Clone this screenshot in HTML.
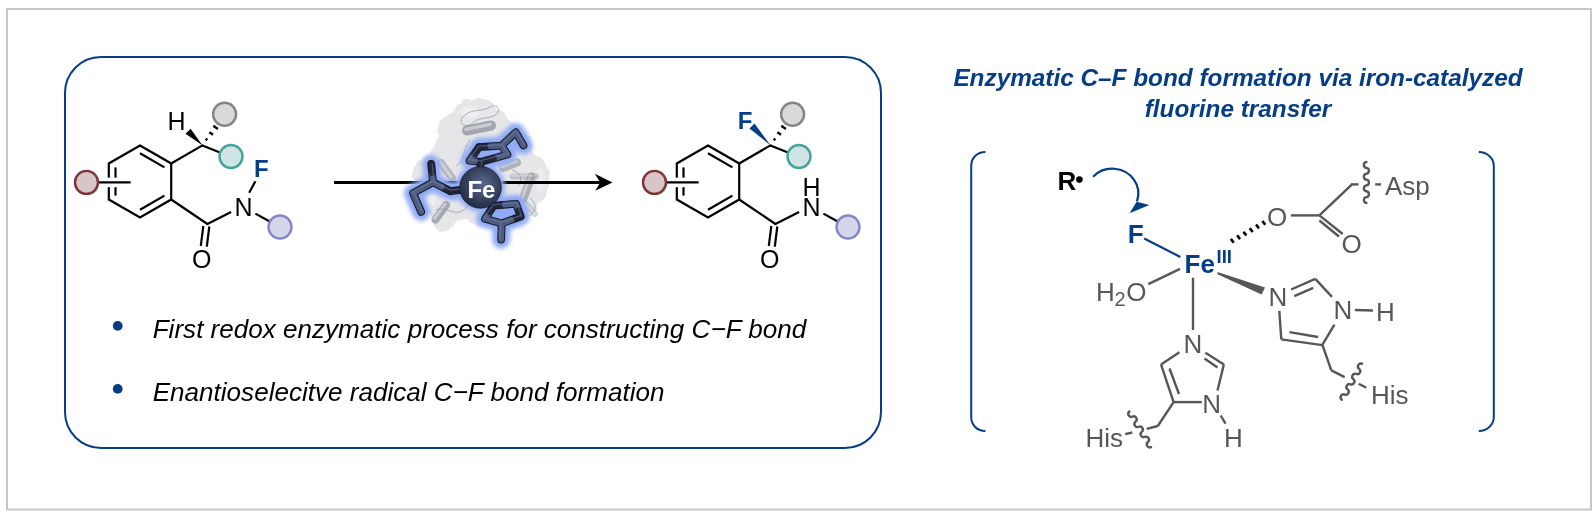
<!DOCTYPE html>
<html><head><meta charset="utf-8">
<style>
html,body{margin:0;padding:0;background:#fff;width:1594px;height:520px;overflow:hidden}
svg{display:block;will-change:transform}
text{font-family:"Liberation Sans",sans-serif}
</style></head>
<body>
<svg width="1594" height="520" viewBox="0 0 1594 520">
<defs>
  <filter id="glow" x="-30%" y="-30%" width="160%" height="160%">
    <feGaussianBlur stdDeviation="1.9"/>
  </filter>
  <filter id="soft" x="-10%" y="-10%" width="120%" height="120%">
    <feGaussianBlur stdDeviation="0.9"/>
  </filter>
  <filter id="lumpy" x="-10%" y="-10%" width="120%" height="120%">
    <feTurbulence type="fractalNoise" baseFrequency="0.1" numOctaves="2" seed="5" result="n"/>
    <feDisplacementMap in="SourceGraphic" in2="n" scale="8" xChannelSelector="R" yChannelSelector="G" result="d"/>
    <feGaussianBlur in="d" stdDeviation="0.6"/>
  </filter>
  <radialGradient id="feg" cx="0.55" cy="0.42" r="0.62">
    <stop offset="0" stop-color="#5c6a92"/>
    <stop offset="0.5" stop-color="#3e4866"/>
    <stop offset="0.9" stop-color="#283048"/>
    <stop offset="1" stop-color="#1d2234"/>
  </radialGradient>
  <linearGradient id="hel" x1="0" y1="0" x2="0" y2="1">
    <stop offset="0" stop-color="#b9bcc2"/>
    <stop offset="0.5" stop-color="#9ea2ab"/>
    <stop offset="1" stop-color="#8a8e98"/>
  </linearGradient>
  </defs>

<!-- outer frame -->
<rect x="7" y="9" width="1584" height="500.5" fill="none" stroke="#c8c8c8" stroke-width="2"/>
<!-- blue rounded box -->
<rect x="65" y="57" width="816" height="391" rx="36" ry="36" fill="none" stroke="#063e85" stroke-width="2"/>

<!-- reactant -->
<g>
    <!-- ring -->
    <path d="M140,145.5 L171.2,163.5 L171.2,199.5 L140,217.5 L108.8,199.5 L108.8,163.5 Z" fill="none" stroke="#000" stroke-width="2.2" stroke-linejoin="miter"/>
    <g stroke="#000" stroke-width="2.2">
    <line x1="140.0" y1="153.2" x2="164.45" y2="167.35"/>
    <line x1="140.0" y1="209.8" x2="164.45" y2="195.65"/>
    <line x1="115.5" y1="167.4" x2="115.5" y2="195.6"/>
    </g>
    <!-- substituent crossing -->
    <line x1="102" y1="182.4" x2="122" y2="182.4" stroke="#fff" stroke-width="9.5"/>
    <line x1="98" y1="182.4" x2="130.6" y2="182.4" stroke="#000" stroke-width="2.2"/>
    <circle cx="86.5" cy="182.4" r="11.5" fill="#d8c5c6" stroke="#7c3437" stroke-width="2.4"/>
    <g stroke="#000" stroke-width="2.2" stroke-linecap="round">
    <!-- to chiral C -->
    <line x1="171.2" y1="163.5" x2="202.4" y2="145.4"/>
    <!-- chiral C to teal -->
    <line x1="202.4" y1="145.4" x2="220" y2="152.5" stroke-linecap="butt"/>
    <!-- carbonyl -->
    <line x1="171.2" y1="199.5" x2="207.4" y2="224"/>
    <line x1="207.4" y1="224" x2="231.1" y2="212.1" stroke-linecap="butt"/>
    <line x1="255.4" y1="213.6" x2="269.3" y2="221.2" stroke-linecap="butt"/>
    </g>
    <g stroke="#000" stroke-width="2.2">
    <line x1="203.3" y1="226" x2="200.8" y2="245.8"/>
    <line x1="209.3" y1="226.5" x2="206.8" y2="246.6"/>
    </g>
    <circle cx="231" cy="156.5" r="11.5" fill="#cfe5e4" stroke="#45a29f" stroke-width="2.4"/>
    <circle cx="224.6" cy="114.3" r="11.5" fill="#d9d9d9" stroke="#858585" stroke-width="2.4"/>
    <text transform="translate(201.8,268) scale(1,1.02)" font-size="25" text-anchor="middle">O</text>
    <circle cx="280" cy="227" r="11.5" fill="#d5d5ec" stroke="#8686c9" stroke-width="2.4"/>
    <text transform="translate(243.5,216) scale(1,1.02)" font-size="25" text-anchor="middle">N</text>
    <g stroke="#000" stroke-width="2.4">
      <line x1="205.6" y1="138.7" x2="207.4" y2="140.1"/>
      <line x1="209.4" y1="132.2" x2="213.0" y2="134.7"/>
      <line x1="213.3" y1="125.7" x2="217.9" y2="128.9"/>
    </g>
  </g>
<polygon points="202.4,145.2 185.5,133.7 190.6,128.7" fill="#000"/>
<text transform="translate(176.6,129.8) scale(1,1.02)" font-size="25" text-anchor="middle">H</text>
<line x1="249.2" y1="192.8" x2="255.4" y2="181.3" stroke="#000" stroke-width="2.2"/>
<text transform="translate(261.4,177.2) scale(1,1.02)" font-size="24" font-weight="bold" fill="#063e85" text-anchor="middle">F</text>

<!-- product -->
<g transform="translate(568,0)">
<g>
    <!-- ring -->
    <path d="M140,145.5 L171.2,163.5 L171.2,199.5 L140,217.5 L108.8,199.5 L108.8,163.5 Z" fill="none" stroke="#000" stroke-width="2.2" stroke-linejoin="miter"/>
    <g stroke="#000" stroke-width="2.2">
    <line x1="140.0" y1="153.2" x2="164.45" y2="167.35"/>
    <line x1="140.0" y1="209.8" x2="164.45" y2="195.65"/>
    <line x1="115.5" y1="167.4" x2="115.5" y2="195.6"/>
    </g>
    <!-- substituent crossing -->
    <line x1="102" y1="182.4" x2="122" y2="182.4" stroke="#fff" stroke-width="9.5"/>
    <line x1="98" y1="182.4" x2="130.6" y2="182.4" stroke="#000" stroke-width="2.2"/>
    <circle cx="86.5" cy="182.4" r="11.5" fill="#d8c5c6" stroke="#7c3437" stroke-width="2.4"/>
    <g stroke="#000" stroke-width="2.2" stroke-linecap="round">
    <!-- to chiral C -->
    <line x1="171.2" y1="163.5" x2="202.4" y2="145.4"/>
    <!-- chiral C to teal -->
    <line x1="202.4" y1="145.4" x2="220" y2="152.5" stroke-linecap="butt"/>
    <!-- carbonyl -->
    <line x1="171.2" y1="199.5" x2="207.4" y2="224"/>
    <line x1="207.4" y1="224" x2="231.1" y2="212.1" stroke-linecap="butt"/>
    <line x1="255.4" y1="213.6" x2="269.3" y2="221.2" stroke-linecap="butt"/>
    </g>
    <g stroke="#000" stroke-width="2.2">
    <line x1="203.3" y1="226" x2="200.8" y2="245.8"/>
    <line x1="209.3" y1="226.5" x2="206.8" y2="246.6"/>
    </g>
    <circle cx="231" cy="156.5" r="11.5" fill="#cfe5e4" stroke="#45a29f" stroke-width="2.4"/>
    <circle cx="224.6" cy="114.3" r="11.5" fill="#d9d9d9" stroke="#858585" stroke-width="2.4"/>
    <text transform="translate(201.8,268) scale(1,1.02)" font-size="25" text-anchor="middle">O</text>
    <circle cx="280" cy="227" r="11.5" fill="#d5d5ec" stroke="#8686c9" stroke-width="2.4"/>
    <text transform="translate(243.5,216) scale(1,1.02)" font-size="25" text-anchor="middle">N</text>
    <g stroke="#000" stroke-width="2.4">
      <line x1="205.6" y1="138.7" x2="207.4" y2="140.1"/>
      <line x1="209.4" y1="132.2" x2="213.0" y2="134.7"/>
      <line x1="213.3" y1="125.7" x2="217.9" y2="128.9"/>
    </g>
  </g>
<polygon points="202.4,145.2 181.5,128.5 186.5,123.5" fill="#063e85"/>
<text transform="translate(177,128.6) scale(1,1.02)" font-size="24" font-weight="bold" fill="#063e85" text-anchor="middle">F</text>
<text transform="translate(243.5,195.6) scale(1,1.02)" font-size="25" text-anchor="middle">H</text>
</g>

<g id="enzyme"><path d="M471.3,99.3 C473.9,98.8 478.0,97.2 481.4,97.9 C484.8,98.6 488.4,101.2 491.5,103.6 C494.6,106.0 497.7,109.9 500.1,112.3 C502.5,114.7 503.4,115.9 506,118 C508.6,120.1 512.2,121.6 516,125 C519.8,128.4 526.1,133.6 529,138.2 C531.9,142.8 531.4,149.6 533.3,152.7 C535.2,155.8 538.1,154.6 540.5,157 C542.9,159.4 546.3,163.5 547.7,167.1 C549.1,170.7 549.3,174.8 549.1,178.6 C548.9,182.4 547.7,186.2 546.3,190.1 C544.9,193.9 542.4,198.3 540.5,201.7 C538.6,205.1 536.6,207.9 534.7,210.3 C532.8,212.7 531.4,214.2 529,216.1 C526.6,218.0 523.5,220.2 520.3,221.8 C517.1,223.5 514.2,225.0 510,226 C505.8,227.0 500.0,228.0 495,228 C490.0,228.0 484.8,227.5 480,226 C475.2,224.5 469.7,219.7 466,219 C462.3,218.3 461.0,220.1 458,222 C455.0,223.9 451.3,228.8 448.2,230.5 C445.1,232.2 442.0,233.0 439.6,232 C437.2,231.0 435.7,228.3 433.8,224.7 C431.9,221.1 430.4,214.1 428,210.3 C425.6,206.5 421.3,205.1 419.4,201.7 C417.5,198.3 417.5,194.9 416.5,190.1 C415.5,185.3 413.1,177.6 413.6,172.8 C414.1,168.0 416.5,164.7 419.4,161.3 C422.3,158.0 428.1,155.6 431,152.7 C433.9,149.8 435.5,147.4 436.7,144 C437.9,140.6 437.7,136.1 438.2,132.5 C438.7,128.9 438.2,125.3 439.6,122.4 C441.0,119.5 443.9,117.9 446.8,115.2 C449.7,112.5 453.8,108.9 456.9,106.5 C460.0,104.1 463.1,102.0 465.5,100.8 C467.9,99.6 468.7,99.8 471.3,99.3Z" fill="#e3e3e6" fill-opacity="0.9" filter="url(#lumpy)"/><g fill="#f2f2f3" opacity="0.7" filter="url(#soft)"><ellipse cx="470" cy="112" rx="9" ry="6"/><ellipse cx="540" cy="180" rx="5" ry="12"/><ellipse cx="430" cy="200" rx="6" ry="8"/><ellipse cx="500" cy="228" rx="10" ry="3"/></g><g opacity="0.85" stroke-linecap="round"><line x1="467" y1="130.5" x2="491" y2="125.5" stroke="#979ba4" stroke-width="10"/><line x1="467" y1="130.5" x2="491" y2="125.5" stroke="#c4c7cd" stroke-width="3.5" transform="translate(-0.9,-1.1)"/></g><g opacity="0.7" stroke-linecap="round"><line x1="503" y1="168" x2="517" y2="162.5" stroke="#979ba4" stroke-width="8"/><line x1="503" y1="168" x2="517" y2="162.5" stroke="#c4c7cd" stroke-width="2.8" transform="translate(-0.9,-1.1)"/></g><g opacity="0.75" stroke-linecap="round"><line x1="531.5" y1="176.5" x2="523" y2="199" stroke="#979ba4" stroke-width="8.5"/><line x1="531.5" y1="176.5" x2="523" y2="199" stroke="#c4c7cd" stroke-width="3.0" transform="translate(-0.9,-1.1)"/></g><g opacity="0.5" stroke-linecap="round"><line x1="513" y1="176.6" x2="536" y2="176.6" stroke="#979ba4" stroke-width="6"/><line x1="513" y1="176.6" x2="536" y2="176.6" stroke="#c4c7cd" stroke-width="2.1" transform="translate(-0.9,-1.1)"/></g><g opacity="0.8" stroke-linecap="round"><line x1="446" y1="205" x2="435.5" y2="219.5" stroke="#979ba4" stroke-width="8"/><line x1="446" y1="205" x2="435.5" y2="219.5" stroke="#c4c7cd" stroke-width="2.8" transform="translate(-0.9,-1.1)"/></g><g opacity="0.6" stroke-linecap="round"><line x1="441" y1="163" x2="452" y2="178" stroke="#979ba4" stroke-width="8"/><line x1="441" y1="163" x2="452" y2="178" stroke="#c4c7cd" stroke-width="2.8" transform="translate(-0.9,-1.1)"/></g><g opacity="0.4" stroke-linecap="round"><line x1="525" y1="203" x2="535" y2="214" stroke="#979ba4" stroke-width="6"/><line x1="525" y1="203" x2="535" y2="214" stroke="#c4c7cd" stroke-width="2.1" transform="translate(-0.9,-1.1)"/></g><g stroke="#8d929c" stroke-width="0.9" fill="none" opacity="0.75"><path d="M462,118 C470,108 480,112 488,108 C494,104 500,106 498,112 C494,120 480,116 474,122 C468,128 458,126 462,118 Z"/><path d="M470,140 C462,150 466,160 456,166"/><path d="M436,210 C446,206 450,214 460,212 C466,210 466,204 472,206"/><path d="M530,198 C538,204 536,214 528,216"/><path d="M512,170 C520,172 524,180 518,186"/></g><line x1="334" y1="182.4" x2="602" y2="182.4" stroke="#000" stroke-width="3"/><path d="M612.5,182.4 L594.8,173.8 L600.2,182.4 L595.2,190.8 Z" fill="#000"/><path d="M480.5,187.4L450.5,191.2 M450.5,191.2L433,182.3 M433,182.3L431.2,164 M433,182.3L413.1,193.1 M413.1,193.1L421.2,211.9 M480.5,187.4L480.5,161.9 M480.5,161.9L469.7,160.6 M469.7,160.6L479.1,147.1 M479.1,147.1L501.6,145.6 M501.6,145.6L507.4,154.5 M507.4,154.5L480.5,161.9 M501.6,145.6L515.8,132.3 M515.8,132.3L523.5,145.4 M480.5,187.4L493.6,205.6 M493.6,205.6L516.1,203.8 M516.1,203.8L520.7,216.5 M520.7,216.5L501.7,223.4 M501.7,223.4L485,218.8 M485,218.8L493.6,205.6 M501.7,223.4L501.1,239.6" stroke="#8fabf6" stroke-width="18" stroke-linecap="round" stroke-linejoin="round" fill="none" filter="url(#glow)"/><circle cx="480.5" cy="187.4" r="24.5" fill="#8fabf6" filter="url(#glow)"/><path d="M480.5,187.4L450.5,191.2 M450.5,191.2L433,182.3 M433,182.3L431.2,164 M433,182.3L413.1,193.1 M413.1,193.1L421.2,211.9 M480.5,187.4L480.5,161.9 M480.5,161.9L469.7,160.6 M469.7,160.6L479.1,147.1 M479.1,147.1L501.6,145.6 M501.6,145.6L507.4,154.5 M507.4,154.5L480.5,161.9 M501.6,145.6L515.8,132.3 M515.8,132.3L523.5,145.4 M480.5,187.4L493.6,205.6 M493.6,205.6L516.1,203.8 M516.1,203.8L520.7,216.5 M520.7,216.5L501.7,223.4 M501.7,223.4L485,218.8 M485,218.8L493.6,205.6 M501.7,223.4L501.1,239.6" stroke="#141824" stroke-width="7.8" stroke-linecap="round" stroke-linejoin="round" fill="none"/><g stroke-width="5.8" stroke-linecap="round" fill="none"><path d="M480.5,187.4L465.50,189.30" stroke="#222738"/><path d="M465.50,189.30L450.5,191.2" stroke="#222738"/><path d="M450.5,191.2L441.75,186.75" stroke="#222738"/><path d="M441.75,186.75L433,182.3" stroke="#4f5b7e"/><path d="M433,182.3L432.10,173.15" stroke="#4f5b7e"/><path d="M432.10,173.15L431.2,164" stroke="#222738"/><path d="M433,182.3L423.05,187.70" stroke="#4f5b7e"/><path d="M423.05,187.70L413.1,193.1" stroke="#4f5b7e"/><path d="M413.1,193.1L417.15,202.50" stroke="#4f5b7e"/><path d="M417.15,202.50L421.2,211.9" stroke="#4f5b7e"/><path d="M480.5,187.4L480.50,174.65" stroke="#222738"/><path d="M480.50,174.65L480.5,161.9" stroke="#222738"/><path d="M480.5,161.9L475.10,161.25" stroke="#222738"/><path d="M475.10,161.25L469.7,160.6" stroke="#4f5b7e"/><path d="M469.7,160.6L474.40,153.85" stroke="#4f5b7e"/><path d="M474.40,153.85L479.1,147.1" stroke="#222738"/><path d="M479.1,147.1L490.35,146.35" stroke="#222738"/><path d="M490.35,146.35L501.6,145.6" stroke="#4f5b7e"/><path d="M501.6,145.6L504.50,150.05" stroke="#4f5b7e"/><path d="M504.50,150.05L507.4,154.5" stroke="#4f5b7e"/><path d="M507.4,154.5L493.95,158.20" stroke="#4f5b7e"/><path d="M493.95,158.20L480.5,161.9" stroke="#222738"/><path d="M501.6,145.6L508.70,138.95" stroke="#4f5b7e"/><path d="M508.70,138.95L515.8,132.3" stroke="#4f5b7e"/><path d="M515.8,132.3L519.65,138.85" stroke="#4f5b7e"/><path d="M519.65,138.85L523.5,145.4" stroke="#4f5b7e"/><path d="M480.5,187.4L487.05,196.50" stroke="#222738"/><path d="M487.05,196.50L493.6,205.6" stroke="#222738"/><path d="M493.6,205.6L504.85,204.70" stroke="#222738"/><path d="M504.85,204.70L516.1,203.8" stroke="#4f5b7e"/><path d="M516.1,203.8L518.40,210.15" stroke="#4f5b7e"/><path d="M518.40,210.15L520.7,216.5" stroke="#222738"/><path d="M520.7,216.5L511.20,219.95" stroke="#222738"/><path d="M511.20,219.95L501.7,223.4" stroke="#4f5b7e"/><path d="M501.7,223.4L493.35,221.10" stroke="#4f5b7e"/><path d="M493.35,221.10L485,218.8" stroke="#4f5b7e"/><path d="M485,218.8L489.30,212.20" stroke="#4f5b7e"/><path d="M489.30,212.20L493.6,205.6" stroke="#222738"/><path d="M501.7,223.4L501.40,231.50" stroke="#4f5b7e"/><path d="M501.40,231.50L501.1,239.6" stroke="#4f5b7e"/></g><path d="M480.37,186.41L450.37,190.21 M450.95,190.31L433.45,181.41 M434.00,182.20L432.20,163.90 M432.52,181.42L412.62,192.22 M414.02,192.70L422.12,211.50 M481.50,187.40L481.50,161.90 M480.62,160.91L469.82,159.61 M468.88,160.03L478.28,146.53 M479.03,146.10L501.53,144.60 M502.44,145.05L508.24,153.95 M507.13,153.54L480.23,160.94 M500.92,144.87L515.12,131.57 M516.66,131.79L524.36,144.89 M481.31,186.82L494.41,205.02 M493.52,204.60L516.02,202.80 M517.04,203.46L521.64,216.16 M520.36,215.56L501.36,222.46 M501.97,222.44L485.27,217.84 M484.16,218.25L492.76,205.05 M500.70,223.36L500.10,239.56" stroke="#7d8bb0" stroke-width="1.3" stroke-linecap="round" fill="none" opacity="0.45"/><circle cx="480.5" cy="187.4" r="20.8" fill="url(#feg)" stroke="#181c2a" stroke-width="0.8"/><text transform="translate(481.4,197.6)" font-size="24" font-weight="bold" fill="#fff" text-anchor="middle">Fe</text></g>
<!-- bullets -->
<circle cx="117.7" cy="325.9" r="4.9" fill="#063e85"/>
<circle cx="117.7" cy="388.9" r="4.9" fill="#063e85"/>
<text transform="translate(152.7,337.7) scale(1,1.02)" font-size="26.08" font-style="italic">First redox enzymatic process for constructing C&#8722;F bond</text>
<text transform="translate(152.7,400.9) scale(1,1.02)" font-size="26.08" font-style="italic">Enantioselecitve radical C&#8722;F bond formation</text>

<!-- right title -->
<text transform="translate(1238,86.3) scale(1,1.02)" font-size="24.35" font-style="italic" font-weight="bold" fill="#063e85" text-anchor="middle">Enzymatic C&#8211;F bond formation via iron-catalyzed</text>
<text transform="translate(1238,116.6) scale(1,1.02)" font-size="24.35" font-style="italic" font-weight="bold" fill="#063e85" text-anchor="middle">fluorine transfer</text>

<!-- brackets -->
<path d="M985.4,152 C977,152 971.2,158 971.2,166 L971.2,417 C971.2,425 977,431 985.4,431" fill="none" stroke="#063e85" stroke-width="2"/>
<path d="M1478.8,152 C1487,152 1493.8,158 1493.8,166 L1493.8,417 C1493.8,425 1487,431 1478.8,431" fill="none" stroke="#063e85" stroke-width="2"/>

<!-- R dot arrow -->
<text transform="translate(1057.5,190) scale(1,1.02)" font-size="26" font-weight="bold">R</text>
<circle cx="1079.4" cy="179.6" r="3.3" fill="#000"/>
<path d="M1093.04,176.84 C1098.42,171.18 1106.23,168.20 1114.22,168.77 C1122.21,169.33 1129.47,173.37 1133.92,179.73 C1138.37,186.08 1139.50,194.03 1136.99,201.29" fill="none" stroke="#063e85" stroke-width="2.2"/>
<path d="M1129.6,213.3 L1136.6,201.8 L1149.3,205 Z" fill="#063e85"/>

<!-- Fe complex -->
<text transform="translate(1135.6,243.3) scale(1,1.02)" font-size="26" font-weight="bold" fill="#063e85" text-anchor="middle">F</text>
<line x1="1144.2" y1="238.4" x2="1180.3" y2="256.9" stroke="#063e85" stroke-width="2.2"/>
<text transform="translate(1184.6,272.8) scale(1,1.02)" font-size="26" font-weight="bold" fill="#063e85">Fe</text>
<text transform="translate(1216.6,262.6) scale(1,1.02)" font-size="18.5" font-weight="bold" fill="#063e85">III</text>

<g stroke="#575757" stroke-width="2.4" fill="none">
  <line x1="1148.3" y1="284.2" x2="1180" y2="268.8"/>
  <line x1="1193" y1="277.7" x2="1193" y2="330"/>
  <!-- carboxylate -->
  <line x1="1290.9" y1="215.4" x2="1319.4" y2="215.4"/>
  <line x1="1319.4" y1="215.4" x2="1342.7" y2="234"/>
  <line x1="1319.4" y1="220.5" x2="1339" y2="236.5"/>
  <line x1="1319.4" y1="215.4" x2="1352" y2="184.4"/>
  <line x1="1351" y1="184.4" x2="1358.5" y2="184.4"/>
  <line x1="1375.2" y1="184.4" x2="1381" y2="184.4"/>
  <path d="M1366.40,162.00 A2.96,2.96 0 0 0 1366.40,167.86 A2.96,2.96 0 0 1 1366.40,173.71 A2.96,2.96 0 0 0 1366.40,179.57 A2.96,2.96 0 0 1 1366.40,185.43 A2.96,2.96 0 0 0 1366.40,191.29 A2.96,2.96 0 0 1 1366.40,197.14 A2.96,2.96 0 0 0 1366.40,203.00" stroke-linecap="round"/>
  <!-- right imidazole -->
  <line x1="1291.1" y1="289.5" x2="1315.3" y2="278.9"/>
  <line x1="1294.3" y1="296.1" x2="1313.2" y2="287.9"/>
  <line x1="1315.3" y1="278.9" x2="1332" y2="296.9"/>
  <line x1="1334.4" y1="324.7" x2="1322.2" y2="345.1"/>
  <line x1="1322.5" y1="345.1" x2="1281.3" y2="339.4"/>
  <line x1="1289.4" y1="332.1" x2="1318.1" y2="337"/>
  <line x1="1281.3" y1="339.4" x2="1279.3" y2="310.8"/>
  <line x1="1354.9" y1="310" x2="1372.9" y2="310.5"/>
  <line x1="1322.5" y1="345.1" x2="1331.3" y2="370.4"/>
  <line x1="1331.3" y1="370.4" x2="1344.7" y2="377.1"/>
  <path d="M1341.80,399.70 A2.98,2.98 0 0 1 1344.69,394.56 A2.98,2.98 0 0 0 1347.57,389.41 A2.98,2.98 0 0 1 1350.46,384.27 A2.98,2.98 0 0 0 1353.34,379.13 A2.98,2.98 0 0 1 1356.23,373.99 A2.98,2.98 0 0 0 1359.11,368.84 A2.98,2.98 0 0 1 1362.00,363.70" stroke-linecap="round"/>
  <line x1="1358.7" y1="383.8" x2="1366.3" y2="387.7"/>
  <!-- lower imidazole -->
  <line x1="1179.4" y1="352.3" x2="1161" y2="364.4"/>
  <line x1="1205.4" y1="352.7" x2="1223.9" y2="364.4"/>
  <line x1="1204.5" y1="358.5" x2="1217.5" y2="367.5"/>
  <line x1="1223.9" y1="364.4" x2="1217.5" y2="390.5"/>
  <line x1="1201.8" y1="402.1" x2="1173.6" y2="402.1"/>
  <line x1="1173.6" y1="402.1" x2="1161" y2="364.4"/>
  <line x1="1179" y1="394" x2="1169.5" y2="368.5"/>
  <line x1="1220.7" y1="415.5" x2="1225.5" y2="423.6"/>
  <line x1="1173.6" y1="402.1" x2="1157.8" y2="426"/>
  <line x1="1157.8" y1="426" x2="1146.7" y2="428.8"/>
  <path d="M1129.40,411.50 A3.00,3.00 0 0 0 1132.49,416.59 A3.00,3.00 0 0 1 1135.57,421.67 A3.00,3.00 0 0 0 1138.66,426.76 A3.00,3.00 0 0 1 1141.74,431.84 A3.00,3.00 0 0 0 1144.83,436.93 A3.00,3.00 0 0 1 1147.91,442.01 A3.00,3.00 0 0 0 1151.00,447.10" stroke-linecap="round"/>
  <line x1="1125.1" y1="434.1" x2="1132.3" y2="432.5"/>
</g>
<g stroke="#000" stroke-width="2.6"><line x1="1230.86" y1="238.88" x2="1233.74" y2="242.72"/><line x1="1237.16" y1="235.30" x2="1240.04" y2="239.14"/><line x1="1243.46" y1="231.72" x2="1246.34" y2="235.56"/><line x1="1249.76" y1="228.14" x2="1252.64" y2="231.98"/><line x1="1256.06" y1="224.56" x2="1258.94" y2="228.40"/><line x1="1262.36" y1="220.98" x2="1265.24" y2="224.82"/></g>
<!-- wedge Fe->N -->
<polygon points="1217.5,272.1 1265,287.6 1261.6,294.4 1217.5,274.3" fill="#575757"/>

<g fill="#575757" font-size="26">
  <text transform="translate(1096,300.6) scale(1,1.02)">H</text>
  <text transform="translate(1114.5,306) scale(1,1.02)" font-size="20">2</text>
  <text transform="translate(1126.2,300.6) scale(1,1.02)">O</text>
  <text transform="translate(1277,226) scale(1,1.02)" text-anchor="middle">O</text>
  <text transform="translate(1351.5,253) scale(1,1.02)" text-anchor="middle">O</text>
  <text transform="translate(1385,195.4) scale(1,1.02)">Asp</text>
  <text transform="translate(1277.8,305.9) scale(1,1.02)" text-anchor="middle">N</text>
  <text transform="translate(1342.8,319.3) scale(1,1.02)" text-anchor="middle">N</text>
  <text transform="translate(1385.3,321.4) scale(1,1.02)" text-anchor="middle">H</text>
  <text transform="translate(1371,404.3) scale(1,1.02)">His</text>
  <text transform="translate(1193,352.7) scale(1,1.02)" text-anchor="middle">N</text>
  <text transform="translate(1211.7,412.8) scale(1,1.02)" text-anchor="middle">N</text>
  <text transform="translate(1233.5,446.5) scale(1,1.02)" text-anchor="middle">H</text>
  <text transform="translate(1085.5,446.5) scale(1,1.02)">His</text>
</g>
</svg>
</body></html>
